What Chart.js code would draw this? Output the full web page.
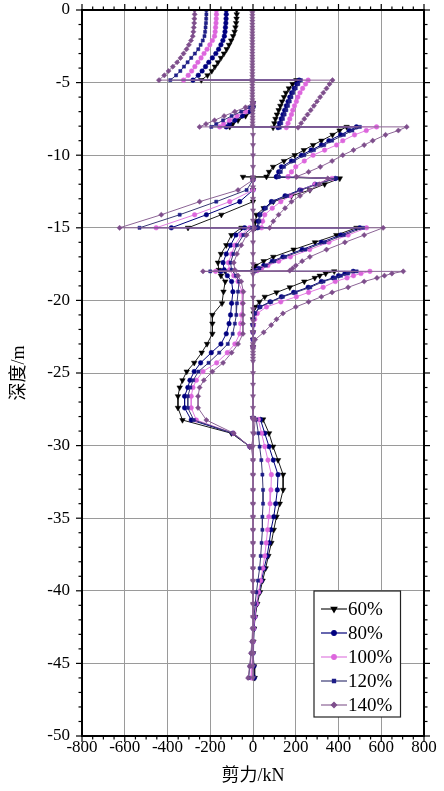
<!DOCTYPE html>
<html><head><meta charset="utf-8">
<script src="https://cdn.jsdelivr.net/npm/chart.js@4.4.1/dist/chart.umd.min.js"></script>
<style>html,body{margin:0;padding:0;background:#fff;}canvas{display:block;}</style>
</head><body>
<canvas id="c" width="444" height="791"></canvas>
<script>
// ---------------- DATA ----------------
const seriesLabels = ['60%', '80%', '100%', '120%', '140%'];
const xTickValues = [-800, -600, -400, -200, 0, 200, 400, 600, 800];
const yTickValues = [-50, -45, -40, -35, -30, -25, -20, -15, -10, -5, 0];

// Path A: 0 ~ -4.83 m (left branch), jump, -4.83 ~ -8.1 m (right branch)
const depthA = [0,-0.3,-0.6,-0.9,-1.2,-1.5,-1.8,-2.1,-2.4,-2.7,-3.0,-3.3,-3.6,-3.9,-4.2,-4.5,-4.83,
  -4.83,-5.1,-5.4,-5.7,-6.0,-6.3,-6.6,-6.9,-7.2,-7.5,-7.8,-8.1];
const shearA = [
  [-76,-76,-77,-79,-82,-86,-93,-102,-112,-123,-136,-150,-164,-178,-193,-213,-242, 203,185,168,154,145,136,128,120,112,105,100,94],
  [-125,-125,-126,-127,-129,-131,-134,-141,-150,-161,-174,-190,-207,-222,-238,-256,-281, 216,205,193,181,172,164,156,148,140,132,124,117],
  [-171,-171,-172,-173,-175,-177,-180,-190,-202,-215,-229,-243,-258,-272,-287,-303,-325, 258,246,232,220,210,203,194,186,180,172,164,156],
  [-218,-218,-219,-220,-222,-224,-227,-235,-245,-256,-272,-289,-306,-323,-340,-360,-387, 224,212,200,188,180,172,164,156,148,140,132,125],
  [-273,-273,-274,-275,-277,-279,-282,-290,-300,-311,-325,-339,-355,-375,-395,-415,-440, 372,358,344,329,314,299,285,270,255,240,225,211]
];

// Path B: -6.4 m down to -46 m (right-hand branches with jumps at the strut levels)
const depthB = [-6.4,-6.7,-7.0,-7.3,-7.6,-7.85,-8.05,
  -8.05,-8.3,-8.6,-9.0,-9.3,-9.65,-10.0,-10.4,-10.8,-11.15,-11.48,
  -11.49,
  -11.6,-12.0,-12.4,-12.8,-13.2,-13.65,-14.1,-14.55,-15.0,
  -15.0,-15.5,-16.0,-16.5,-17.0,-17.3,-17.6,-17.8,-17.95,
  -18.0,
  -18.0,-18.15,-18.3,-18.45,-18.7,-19.1,-19.45,-19.75,-20.1,-20.45,-20.9,-21.3,-21.7,-22.2,-22.7,-23.2,
  -28.1,
  -28.2,-29.15,-30.07,-31.0,-32.0,-33.05,-34.0,-34.9,-35.8,-36.7,-37.6,-38.45,-39.3,-40.1,-40.9,-41.8,-42.6,-43.5,-44.3,-45.2,-46.0];
const shearB = [
  [0,0,-5,-35,-70,-95,-109, 438,405,372,320,281,238,195,145,94,75,63, -47, 406,335,266,180,95,50,16,12,10, 484,390,290,190,95,50,12,5,2, -130, 380,340,312,289,240,172,110,55,30,10,3,0,0,0,0,0, 0, 47,75,94,117,141,141,125,110,97,86,72,59,45,33,20,10,5,2,0,5,8],
  [0,0,-15,-50,-85,-110,-125, 484,450,410,355,320,272,227,180,133,120,110, 110, 385,290,219,150,86,55,31,25,20, 500,410,320,230,140,90,50,25,10, -150, 469,430,400,375,320,258,190,133,80,31,8,3,0,0,0,0, 0, 35,55,75,95,117,114,106,97,84,76,66,52,40,28,17,9,4,0,0,4,6],
  [0,-5,-35,-75,-110,-138,-156, 578,530,475,420,391,335,281,240,200,180,164, 164, 370,290,225,175,130,90,55,45,40, 531,445,355,265,175,120,70,40,20, -175, 547,505,470,440,385,328,260,203,130,63,20,8,2,0,0,0, 0, 25,40,55,70,86,84,80,74,68,62,55,46,36,26,16,8,3,0,-3,-6,-8],
  [0,-15,-55,-100,-140,-172,-195, 500,465,425,370,333,285,240,192,145,130,120, 120, 390,300,225,160,95,60,35,30,25, 515,425,335,245,150,100,60,30,12, -200, 485,445,412,385,330,268,200,140,85,35,10,3,0,0,0,0, 0, 15,25,31,39,44,47,47,44,44,40,36,31,23,16,10,5,0,-3,-8,-15,-20],
  [0,-35,-85,-135,-180,-220,-250, 719,680,620,560,520,470,420,370,315,260,203, 203, 350,310,266,220,180,150,120,95,78, 609,520,430,344,266,230,200,185,172, -234, 703,650,615,580,520,445,370,320,260,200,140,110,85,50,10,0, 0, 10,5,-8,0,0,0,0,0,0,0,0,0,0,0,0,0,-2,-5,-10,-16,-23]
];

// Path C: left-hand branches, -11.7 m to -30.07 m
const depthC = [-11.7,-12.4,-13.2,-14.1,-15.0,
  -15.0,-15.5,-16.2,-16.8,-17.4,-17.9,-18.3,-18.7,-19.4,-20.2,-21.0,-21.6,-22.3,-23.0,-23.6,-24.3,-24.9,-25.5,-26.0,-26.6,-27.4,-28.24,-29.15,-30.07];
const shearC = [
  [0,0,0,-148,-304, -54,-101,-125,-150,-164,-160,-150,-130,-138,-145,-190,-190,-190,-215,-240,-275,-310,-330,-343,-351,-351,-330,-101,-15],
  [0,0,-62,-218,-382, -39,-80,-105,-125,-140,-135,-120,-100,-94,-100,-105,-112,-125,-150,-195,-245,-275,-295,-305,-320,-320,-289,-95,-15],
  [0,0,-109,-273,-453, -16,-55,-85,-100,-115,-110,-90,-70,-50,-50,-54,-58,-62,-85,-120,-170,-234,-265,-281,-289,-289,-265,-92,-15],
  [0,-30,-172,-343,-531, -5,-45,-75,-92,-105,-100,-80,-65,-70,-75,-78,-85,-95,-118,-158,-208,-255,-280,-293,-305,-305,-277,-93,-15],
  [0,-70,-250,-429,-624, 8,-30,-55,-75,-90,-85,-70,-55,-45,-47,-47,-47,-47,-70,-100,-140,-190,-230,-250,-257,-257,-218,-90,-15]
];

// Line along zero shear
const depthZ = [0,-0.2,-0.4,-0.6,-0.8,-1,-1.2,-1.4,-1.6,-1.8,-2,-2.2,-2.4,-2.6,-2.8,-3,-3.2,-3.4,-3.6,-3.8,
  -4,-4.2,-4.4,-4.6,-4.8,-5,-5.2,-5.4,-5.6,-5.8,-6,-6.2,-6.4,-6.6,-6.8,-7,-7.2,-7.4,-7.6,-7.8,-8,
  -8.6,-9.3,-10,-10.8,-11.5,-12.2,-13,-13.8,-14.5,-15.2,-16,-16.8,-17.5,-18.2,-19,-19.8,-20.6,-21.4,-22.2,-23,
  -23.2,-23.4,-23.6,-23.8,-24,-24.2,-25,-25.8,-26.6,-27.4,-28.2,
  -29.15,-30.07,-31,-32,-33.05,-34,-34.9,-35.8,-36.7,-37.6,-38.45,-39.3,-40.1,-40.9,-41.8,-42.6,-43.5,-44.3,-45.2,-46];
const shearZ = [-3,-3,-3,-3,-3,-3,-3,-3,-3,-3,-3,-3,-3,-3,-3,-3,-3,-3,-3,-3,
  -3,-3,-3,-3,-3,-3,-3,-3,-3,-3,-3,-3,-3,-2,-2,-2,-2,-2,-2,-2,-2,
  0,0,0,0,0,0,0,0,0,0,0,0,0,0,0,0,0,0,0,0,
  0,0,0,0,0,0,0,0,0,0,0,
  0,0,0,0,0,0,0,0,0,0,0,0,0,0,0,0,0,0,0,0];

// ---------------- STYLE ----------------
const styles = [
  {line:'#1a1a1a', point:'#000000', shape:'triangle', rot:180, r:3.2},
  {line:'#00007a', point:'#000080', shape:'circle',   rot:0,   r:2.3},
  {line:'#e07ce0', point:'#dd66dd', shape:'circle',   rot:0,   r:2.3},
  {line:'#3a3a74', point:'#1e1e88', shape:'rect',     rot:0,   r:2.2},
  {line:'#8c6496', point:'#7e4e8c', shape:'rectRot',  rot:0,   r:2.6}
];
const zStyle = {line:'#8c6496', point:'#82568e', shape:'triangle', rot:180, r:3};
const FONT = "'Liberation Serif','Times New Roman',serif";
const TFONT = "'Liberation Serif','Noto Sans CJK SC',serif";

function pts(depth, shear) { return depth.map((d, i) => ({x: shear[i], y: d})); }

const datasets = [];
[[depthA, shearA], [depthB, shearB], [depthC, shearC]].forEach(([dep, sh]) => {
  sh.forEach((vals, s) => {
    const st = styles[s];
    datasets.push({
      label: seriesLabels[s], data: pts(dep, vals), showLine: true,
      borderColor: st.line, borderWidth: 1, backgroundColor: st.point,
      pointBackgroundColor: st.point, pointBorderColor: st.point, pointBorderWidth: 0.5,
      pointStyle: st.shape, pointRotation: st.rot, pointRadius: st.r, order: 5 - s
    });
  });
});
datasets.push({
  label: 'zero', data: pts(depthZ, shearZ), showLine: true,
  borderColor: zStyle.line, borderWidth: 1, backgroundColor: zStyle.point,
  pointBackgroundColor: zStyle.point, pointBorderColor: zStyle.point, pointBorderWidth: 0.5,
  pointStyle: zStyle.shape, pointRotation: zStyle.rot, pointRadius: zStyle.r, order: 0
});

const framePlugin = {
  id: 'frame',
  afterDraw(chart) {
    const {ctx, chartArea: ca, scales: {x, y}} = chart;
    ctx.save();
    ctx.strokeStyle = '#000';
    ctx.lineWidth = 1.2;
    const seg = (x1, y1, x2, y2) => { ctx.beginPath(); ctx.moveTo(x1, y1); ctx.lineTo(x2, y2); ctx.stroke(); };
    for (let v = x.min; v <= x.max + 1e-6; v += 50) {
      const px = x.getPixelForValue(v);
      const len = Math.abs(v % 200) < 1e-6 ? 6 : 3.5;
      seg(px, ca.bottom, px, ca.bottom + len);
      seg(px, ca.top, px, ca.top - len);
    }
    for (let v = y.min; v <= y.max + 1e-6; v += 1) {
      const py = y.getPixelForValue(v);
      const len = Math.abs(v % 5) < 1e-6 ? 6 : 3.5;
      seg(ca.left, py, ca.left - len, py);
      seg(ca.right, py, ca.right + len, py);
    }
    ctx.lineWidth = 2;
    ctx.strokeRect(ca.left, ca.top, ca.right - ca.left, ca.bottom - ca.top);

    // legend
    const L = ca.right - 110, T = ca.bottom - 145, W = 86.5, H = 126;
    ctx.fillStyle = '#fff';
    ctx.fillRect(L, T, W, H);
    ctx.lineWidth = 1.2;
    ctx.strokeStyle = '#222';
    ctx.strokeRect(L, T, W, H);
    ctx.font = '19px ' + FONT;
    ctx.textBaseline = 'middle';
    ctx.textAlign = 'left';
    seriesLabels.forEach((lab, i) => {
      const st = styles[i];
      const yy = T + 18 + i * 24;
      ctx.strokeStyle = st.line;
      ctx.lineWidth = 1.2;
      seg(L + 7, yy, L + 33, yy);
      ctx.fillStyle = st.point;
      ctx.strokeStyle = st.point;
      Chart.helpers.drawPoint(ctx, {pointStyle: st.shape, rotation: st.rot, radius: st.r, borderWidth: 0.5}, L + 20, yy);
      ctx.fillStyle = '#000';
      ctx.fillText(lab, L + 34, yy + 1);
    });
    ctx.restore();
  }
};

new Chart(document.getElementById('c'), {
  type: 'scatter',
  data: {datasets},
  options: {
    responsive: false, animation: false, devicePixelRatio: 1,
    layout: {padding: {left: 0, right: 20, top: 10, bottom: 0}},
    plugins: {legend: {display: false}, tooltip: {enabled: false}},
    scales: {
      x: {
        type: 'linear', min: -800, max: 800,
        afterBuildTicks: s => { s.ticks = xTickValues.map(v => ({value: v})); },
        afterFit: s => { s.height = 55; },
        ticks: {color: '#000', font: {family: FONT, size: 17}, padding: 1, callback: v => String(v), maxRotation: 0, autoSkip: false},
        grid: {color: '#9a9a9a', lineWidth: 1, drawTicks: false},
        border: {display: false},
        title: {display: true, text: '剪力/kN', color: '#000', font: {family: TFONT, size: 18}, padding: {top: 4, bottom: 4}}
      },
      y: {
        type: 'linear', min: -50, max: 0,
        afterBuildTicks: s => { s.ticks = yTickValues.map(v => ({value: v})); },
        afterFit: s => { s.width = 82; s.paddingTop = 0; s.paddingBottom = 0; },
        ticks: {color: '#000', font: {family: FONT, size: 17}, padding: 12, callback: v => String(v), autoSkip: false},
        grid: {color: '#9a9a9a', lineWidth: 1, drawTicks: false},
        border: {display: false},
        title: {display: true, text: '深度/m', color: '#000', font: {family: TFONT, size: 18}, padding: {top: 8, bottom: 4}}
      }
    }
  },
  plugins: [framePlugin]
});
</script>
</body></html>
